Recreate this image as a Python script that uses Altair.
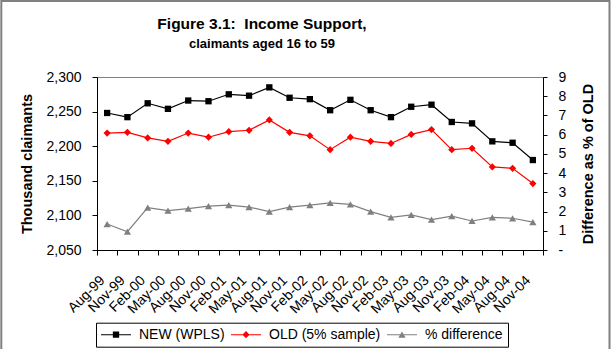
import altair as alt
import pandas as pd

# Quarterly claimant counts (thousands) and the gap between the two sources
periods = ["Aug-99", "Nov-99", "Feb-00", "May-00", "Aug-00", "Nov-00", "Feb-01", "May-01",
           "Aug-01", "Nov-01", "Feb-02", "May-02", "Aug-02", "Nov-02", "Feb-03", "May-03",
           "Aug-03", "Nov-03", "Feb-04", "May-04", "Aug-04", "Nov-04"]
new_wpls = [2248, 2242, 2262, 2254, 2266, 2265, 2275, 2273, 2285, 2270, 2268,
            2252, 2267, 2252, 2242, 2257, 2260, 2235, 2233, 2207, 2205, 2180]
old_sample = [2219, 2220, 2212, 2207, 2219, 2213, 2221, 2223, 2238, 2220, 2215,
              2195, 2213, 2207, 2204, 2217, 2224, 2195, 2197, 2170, 2168, 2146]
pct_diff = [1.35, 0.95, 2.2, 2.05, 2.15, 2.28, 2.33, 2.23, 2.0, 2.23, 2.33,
            2.45, 2.37, 2.0, 1.7, 1.83, 1.58, 1.76, 1.51, 1.7, 1.65, 1.45]

series_names = ["NEW (WPLS)", "OLD (5% sample)", "% difference"]
series_colors = ["#000000", "#FF0000", "#808080"]
left_ticks = [2050, 2100, 2150, 2200, 2250, 2300]
right_ticks = [0, 1, 2, 3, 4, 5, 6, 7, 8, 9]

title_text = "Figure 3.1:\u00a0 Income Support,"
subtitle_text = "claimants aged 16 to 59"

FONT = "Liberation Sans"
W, H = 446, 173

claims = pd.DataFrame({
    "period": periods * 2,
    "series": [series_names[0]] * len(periods) + [series_names[1]] * len(periods),
    "value": new_wpls + old_sample,
})
diffs = pd.DataFrame({"period": periods, "pct": pct_diff})

x_enc = alt.X(
    "period:O", sort=periods,
    scale=alt.Scale(type="band", paddingInner=0, paddingOuter=0),
    axis=alt.Axis(title=None, labelAngle=315, labelAlign="right", labelBaseline="middle",
                  labelFontSize=14, labelPadding=23, labelOffset=-5, tickBand="extent",
                  tickSize=5, grid=False),
)

y_left = alt.Y(
    "value:Q",
    scale=alt.Scale(domain=[2050, 2300], nice=False, zero=False),
    axis=alt.Axis(values=left_ticks, labelExpr="format(datum.value, ',')",
                  title="Thousand claimants",
                  titleX=-70, titleY=H / 2, titleAngle=270, titleAlign="center",
                  titleBaseline="middle", titleFontSize=14.5, titleFontWeight="bold",
                  labelFontSize=14, labelPadding=11, tickSize=5, grid=False),
)

y_right = alt.Y(
    "pct:Q",
    scale=alt.Scale(domain=[0, 9], nice=False),
    axis=alt.Axis(orient="right", values=right_ticks,
                  labelExpr="datum.value == 0 ? '-' : datum.label",
                  title="Difference as % of OLD",
                  titleX=45, titleY=H / 2, titleAngle=270, titleAlign="center",
                  titleBaseline="middle", titleFontSize=14.5, titleFontWeight="bold",
                  labelFontSize=14, labelPadding=11, tickSize=4, grid=False),
)


def series_filter(name):
    return alt.datum.series == name


new_line = alt.Chart(claims).transform_filter(series_filter(series_names[0])).mark_line(
    color=series_colors[0], strokeWidth=1.2).encode(x=x_enc, y=y_left)
old_line = alt.Chart(claims).transform_filter(series_filter(series_names[1])).mark_line(
    color=series_colors[1], strokeWidth=1.2).encode(x=x_enc, y=y_left)
new_pts = alt.Chart(claims).transform_filter(series_filter(series_names[0])).mark_point(
    shape="square", filled=True, size=40, opacity=1, color=series_colors[0]).encode(x=x_enc, y=y_left)
old_pts = alt.Chart(claims).transform_filter(series_filter(series_names[1])).mark_point(
    shape="diamond", filled=True, size=52, opacity=1, color=series_colors[1]).encode(x=x_enc, y=y_left)

left = alt.layer(new_line, old_line, new_pts, old_pts)

diff_line = alt.Chart(diffs).mark_line(color=series_colors[2], strokeWidth=1.2).encode(x=x_enc, y=y_right)
diff_pts = alt.Chart(diffs).mark_point(
    shape="triangle-up", filled=True, size=52, opacity=1, color=series_colors[2]).encode(x=x_enc, y=y_right)

right = alt.layer(diff_line, diff_pts)

# Legend keys: a short line with the series marker on it
legend_paths = [
    "M-5,-0.18H5V0.18H-5Z M-1.05,-1.05H1.05V1.05H-1.05Z",
    "M-5,-0.18H5V0.18H-5Z M0,-1.2L1.2,0L0,1.2L-1.2,0Z",
    "M-5,-0.18H5V0.18H-5Z M0,-1.04L1.2,1.04H-1.2Z",
]
legend_def = alt.Legend(
    title=None, orient="none", legendX=-1, legendY=245.7, direction="horizontal",
    symbolSize=36, symbolOffset=8, labelOffset=16, labelFontSize=14, labelColor="black",
    columnPadding=6, padding=5, strokeColor="black", fillColor="white",
    symbolStrokeWidth=0, labelLimit=300,
)
legend_layer = alt.Chart(pd.DataFrame({"series": series_names})).transform_filter(
    "false").mark_point(filled=True, opacity=1).encode(
    color=alt.Color("series:N", scale=alt.Scale(domain=series_names, range=series_colors),
                    legend=legend_def),
    shape=alt.Shape("series:N", scale=alt.Scale(domain=series_names, range=legend_paths),
                    legend=legend_def),
)

frame = alt.Chart(pd.DataFrame({"k": [0]})).mark_rect(
    fillOpacity=0, stroke="#808080", strokeWidth=2).encode(
    x=alt.value(-95.7), x2=alt.value(512.5), y=alt.value(-76), y2=alt.value(283))

title_main = alt.Chart(pd.DataFrame({"t": [title_text]})).mark_text(
    fontSize=15.5, fontWeight="bold", align="center", baseline="alphabetic", color="black"
).encode(x=alt.value(165), y=alt.value(-48.5), text="t:N")
title_sub = alt.Chart(pd.DataFrame({"t": [subtitle_text]})).mark_text(
    fontSize=13, fontWeight="bold", align="center", baseline="alphabetic", color="black"
).encode(x=alt.value(165), y=alt.value(-29.5), text="t:N")

chart = alt.layer(frame, title_main, title_sub, left, right, legend_layer).resolve_scale(
    y="independent"
).properties(
    width=W, height=H,
    padding={"left": 97, "top": 77, "right": 70, "bottom": 99},
    autosize=alt.AutoSizeParams(type="none"),
).configure(
    font=FONT,
).configure_view(
    stroke="#808080", strokeWidth=1,
).configure_axis(
    labelFont=FONT, titleFont=FONT, labelColor="black", titleColor="black",
    domainColor="black", tickColor="black", domainWidth=1, tickWidth=1,
).configure_legend(
    labelFont=FONT,
)

chart.save("out.html", embed_options={"renderer": "svg", "actions": False})
